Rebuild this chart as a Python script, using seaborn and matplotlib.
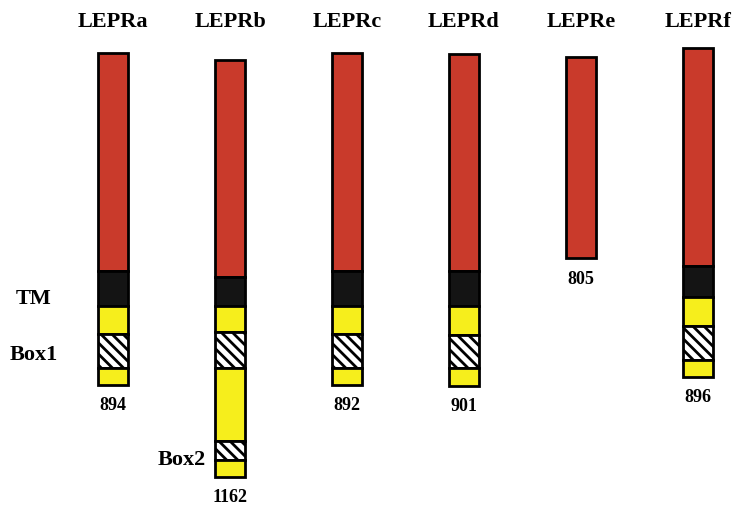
import matplotlib.pyplot as plt
import seaborn as sns

sns.set_theme(style="white")
plt.rcParams['font.family'] = ['Liberation Serif', 'DejaVu Serif']
plt.rcParams['text.color'] = 'black'
plt.rcParams['hatch.linewidth'] = 2.0
plt.rcParams['hatch.color'] = 'black'

# isoform names and protein lengths (aa)
isoforms = ['LEPRa', 'LEPRb', 'LEPRc', 'LEPRd', 'LEPRe', 'LEPRf']
aa_lengths = ['894', '1162', '892', '901', '805', '896']

# where each bar starts (top), in drawing units
starts = [54, 61, 54, 55, 58, 49]

# domain segments from top to bottom: (kind, size)
seg_a = [('ext', 218), ('tm', 35), ('cyto', 28), ('box', 34), ('cyto', 17)]
seg_b = [('ext', 217), ('tm', 29), ('cyto', 26), ('box', 36), ('cyto', 73), ('box', 19), ('cyto', 17)]
seg_c = [('ext', 218), ('tm', 35), ('cyto', 28), ('box', 34), ('cyto', 17)]
seg_d = [('ext', 217), ('tm', 35), ('cyto', 29), ('box', 33), ('cyto', 18)]
seg_e = [('ext', 201)]
seg_f = [('ext', 218), ('tm', 31), ('cyto', 29), ('box', 34), ('cyto', 17)]
segments = [seg_a, seg_b, seg_c, seg_d, seg_e, seg_f]

colors = {'ext': '#C93A2B', 'tm': '#141414', 'cyto': '#F6EE1C', 'box': 'white'}
hatches = {'ext': None, 'tm': None, 'cyto': None, 'box': '\\\\\\'}

fig = plt.figure(figsize=(7.41, 5.06), dpi=100)
ax = fig.add_axes([0, 0, 1, 1])

bar_w = 0.256
for i, (name, segs, top, aa) in enumerate(zip(isoforms, segments, starts, aa_lengths)):
    bottom = top
    for kind, size in segs:
        ax.bar(i, size, bottom=bottom, width=bar_w, color=colors[kind],
               hatch=hatches[kind], edgecolor='black', linewidth=2, zorder=2)
        bottom += size
    ax.text(i, 22, name, ha='center', va='center', fontsize=16, fontweight='bold')
    ax.text(i, bottom + 20, aa, ha='center', va='center', fontsize=13, fontweight='bold')

# domain labels
ax.text(-0.68, 299, 'TM', ha='center', va='center', fontsize=16, fontweight='bold')
ax.text(-0.68, 355, 'Box1', ha='center', va='center', fontsize=16, fontweight='bold')
ax.text(0.59, 460, 'Box2', ha='center', va='center', fontsize=16, fontweight='bold')

ax.set_xlim(-0.966, 5.368)
ax.set_ylim(506, 0)
ax.axis('off')

fig.savefig('out.png', dpi=100)
